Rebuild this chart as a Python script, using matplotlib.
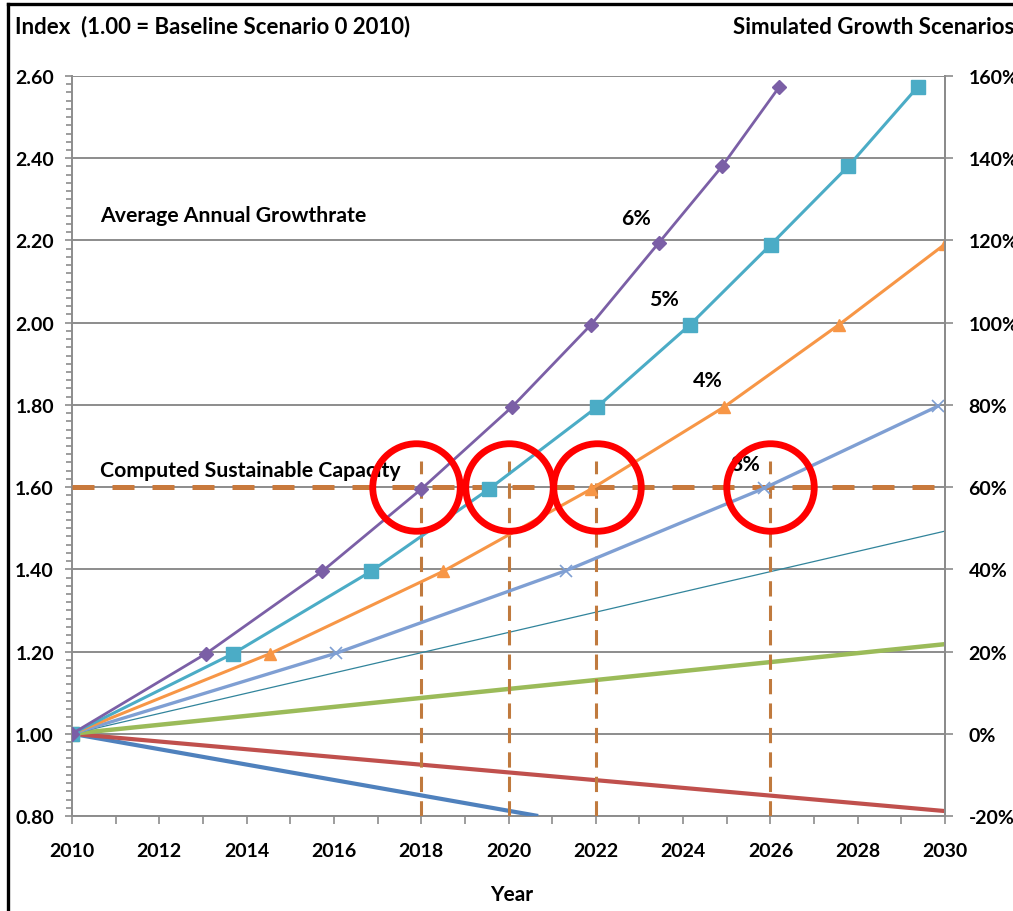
import matplotlib
matplotlib.use("Agg")
import matplotlib.pyplot as plt
from matplotlib.lines import Line2D
from matplotlib.ticker import MultipleLocator, FuncFormatter

plt.rcParams['font.family'] = ['Lato', 'DejaVu Sans']
plt.rcParams['font.weight'] = 'bold'

# Growth scenarios: (year, index) points where each curve crosses the grid levels
years_6 = [2010, 2013.07, 2015.73, 2018.0, 2020.08, 2021.89, 2023.45, 2024.89, 2026.2]
index_6 = [1.00, 1.195, 1.395, 1.595, 1.795, 1.995, 2.195, 2.38, 2.573]

years_5 = [2010, 2013.69, 2016.85, 2019.55, 2022.03, 2024.16, 2026.01, 2027.78, 2029.38]
index_5 = [1.00, 1.195, 1.395, 1.595, 1.795, 1.995, 2.19, 2.38, 2.574]

years_4 = [2010, 2014.54, 2018.5, 2021.89, 2024.94, 2027.57, 2030.0]
index_4 = [1.00, 1.195, 1.395, 1.595, 1.795, 1.995, 2.191]

years_3 = [2010, 2016.05, 2021.32, 2025.85, 2029.84]
index_3 = [1.00, 1.196, 1.397, 1.597, 1.797]

years_2 = [2010, 2030]
index_2 = [1.00, 1.493]

years_1 = [2010, 2030]
index_1 = [1.00, 1.218]

years_m1 = [2010, 2030]
index_m1 = [1.00, 0.812]

years_m2 = [2010, 2020.68]
index_m2 = [1.00, 0.80]

capacity = 1.60
crossing_years = [2018, 2020, 2022, 2026]
crossing_top = 1.664
circle_years = [2017.87, 2020.0, 2022.03, 2026.0]

rate_labels = ["6%", "5%", "4%", "3%"]
rate_label_x = [2022.92, 2023.56, 2024.57, 2025.42]
rate_label_y = [2.255, 2.058, 1.861, 1.656]

fig = plt.figure(figsize=(10.13, 9.12), dpi=100)
ax = fig.add_axes([72 / 1013, 1 - 817 / 912, (945 - 72) / 1013, (817 - 77) / 912])

grid_col = '#8c8c8c'
tick_fs = 14
ax.set_xlim(2010, 2030)
ax.set_ylim(0.80, 2.60)
ax.yaxis.set_major_locator(MultipleLocator(0.2))
ax.yaxis.set_minor_locator(MultipleLocator(0.02))
ax.xaxis.set_major_locator(MultipleLocator(2))
ax.xaxis.set_minor_locator(MultipleLocator(1))
ax.yaxis.set_major_formatter(FuncFormatter(lambda v, p: f"{v:.2f}"))
ax.grid(axis='y', color=grid_col, lw=1.4, zorder=0)
ax.spines['top'].set_visible(False)
for s in ['left', 'bottom', 'right']:
    ax.spines[s].set_color(grid_col)
    ax.spines[s].set_linewidth(1.4)
ax.tick_params(axis='both', which='both', direction='out', color=grid_col, width=1.2)
ax.tick_params(axis='y', which='major', length=5, labelsize=tick_fs, pad=8)
ax.tick_params(axis='y', which='minor', length=4)
ax.tick_params(axis='x', which='both', length=6, labelsize=tick_fs, pad=13)
for lab in ax.get_xticklabels() + ax.get_yticklabels():
    lab.set_fontweight('bold')

# Right-hand percentage axis
ax2 = ax.twinx()
ax2.set_ylim(-20, 160)
ax2.yaxis.set_major_locator(MultipleLocator(20))
ax2.yaxis.set_major_formatter(FuncFormatter(lambda v, p: f"{v:.0f}%"))
ax2.tick_params(axis='y', which='major', direction='out', length=6, color=grid_col,
                width=1.2, labelsize=tick_fs, pad=11)
for s in ['top', 'left', 'bottom']:
    ax2.spines[s].set_visible(False)
ax2.spines['right'].set_color(grid_col)
ax2.spines['right'].set_linewidth(1.4)
for lab in ax2.get_yticklabels():
    lab.set_fontweight('bold')

# Declining and slow-growth scenarios
ax.plot(years_m2, index_m2, color='#4f81bd', lw=3.0, zorder=3, solid_capstyle='butt')
ax.plot(years_m1, index_m1, color='#c0504d', lw=3.0, zorder=3, solid_capstyle='butt')
ax.plot(years_1, index_1, color='#9bbb59', lw=3.2, zorder=3, solid_capstyle='butt')
ax.plot(years_2, index_2, color='#31849b', lw=0.9, zorder=3)
ax.plot([2010], [1.0], marker='s', ms=10, color='#9bbb59', mec='#b5c98a', zorder=4)

# Capacity threshold and crossing years
ax.axhline(capacity, color='#c8793c', lw=3.6, dashes=(4.4, 3.6), zorder=5)
for yr in crossing_years:
    ax.plot([yr, yr], [0.80, crossing_top], color='#c07a3e', lw=2.2, dashes=(5, 3), zorder=5)

# Faster growth scenarios with markers
ax.plot(years_3, index_3, color='#7f9fd3', lw=2.4, marker='x', ms=9, mew=1.2, zorder=6)
ax.plot(years_4, index_4, color='#f79646', lw=2.2, marker='^', ms=9, zorder=6)
ax.plot(years_5, index_5, color='#4bacc6', lw=2.2, marker='s', ms=9.5, zorder=6)
ax.plot(years_6, index_6, color='#7b5fa6', lw=2.0, marker='D', ms=7.5, zorder=6)

# Highlight circles around crossing points
ax.plot(circle_years, [capacity] * len(circle_years), linestyle='none', marker='o',
        ms=63, mfc='none', mec='#ff0000', mew=4.9, zorder=7, clip_on=False)

# Annotations
ann_fs = 15.3
ax.text(2010.65, 2.262, "Average Annual Growthrate", fontsize=ann_fs, fontweight='bold', va='center')
ax.text(2010.65, 1.642, "Computed Sustainable Capacity", fontsize=ann_fs, fontweight='bold',
        va='center')
for txt, tx, ty in zip(rate_labels, rate_label_x, rate_label_y):
    ax.text(tx, ty, txt, fontsize=ann_fs, fontweight='bold', ha='center', va='center', zorder=4)

fig.text(15 / 1013, 1 - 27 / 912, "Index  (1.00 = Baseline Scenario 0 2010)", fontsize=16,
         fontweight='bold', va='center', ha='left')
fig.text(733 / 1013, 1 - 27 / 912, "Simulated Growth Scenarios", fontsize=16,
         fontweight='bold', va='center', ha='left')
fig.text(512 / 1013, 1 - 895 / 912, "Year", fontsize=15, fontweight='bold', va='center', ha='center')

# Outer frame
fig.add_artist(Line2D([8 / 1013, 8 / 1013], [0, 1 - 5 / 912], color='black', lw=2.4,
                      transform=fig.transFigure))
fig.add_artist(Line2D([8 / 1013, 1], [1 - 5 / 912, 1 - 5 / 912], color='black', lw=2.4,
                      transform=fig.transFigure))

fig.savefig("out.png", dpi=100, facecolor='white')
